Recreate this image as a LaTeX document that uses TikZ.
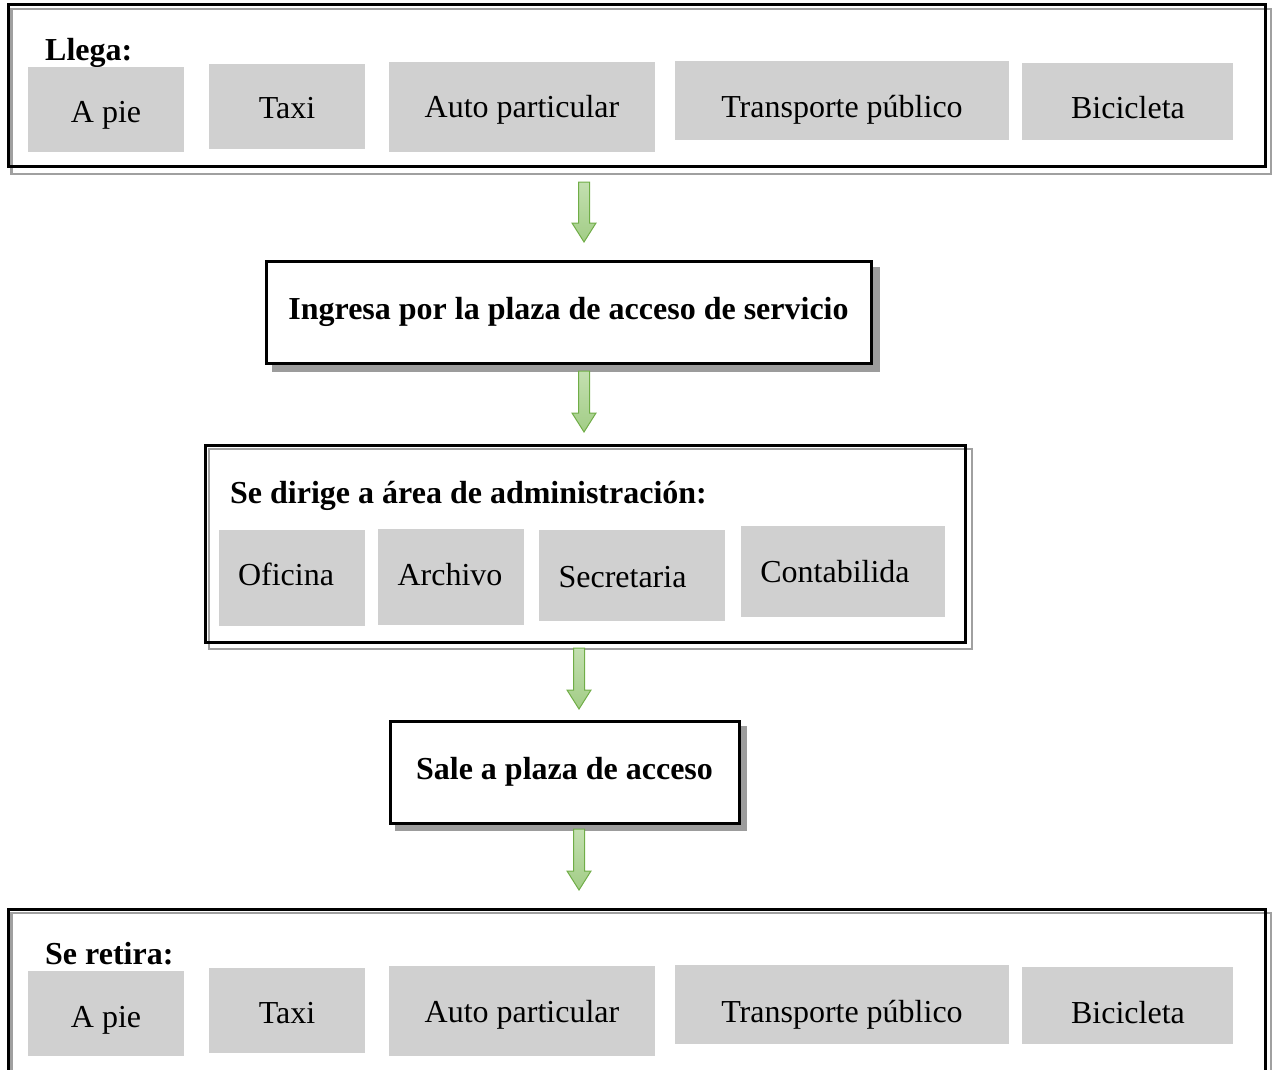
\documentclass[tikz,border=0pt]{standalone}
\usepackage{fontspec}
\setmainfont{Liberation Serif}
\usetikzlibrary{backgrounds}
\definecolor{boxgray}{HTML}{D0D0D0}
\definecolor{framegray}{HTML}{A0A0A0}
\definecolor{shadowgray}{HTML}{9C9C9C}
\definecolor{arrowfill}{HTML}{A2CD86}
\definecolor{arrowlight}{HTML}{C3DFB0}
\definecolor{arrowedge}{HTML}{70AD47}
\tikzset{
  lbl/.style={font=\fontsize{32}{38}\selectfont, inner sep=0pt, anchor=base},
  ttl/.style={font=\fontsize{32}{38}\selectfont\bfseries, inner sep=0pt, anchor=base west},
  optbox/.style={fill=boxgray, draw=none, inner sep=0pt},
  framebox/.style={draw=black, line width=3pt, inner sep=0pt},
  backframe/.style={draw=framegray, line width=2.4pt},
  stepbox/.style={draw=black, line width=3pt, fill=white, inner sep=0pt,
    font=\fontsize{32}{38}\selectfont\bfseries},
  shadowfill/.style={fill=shadowgray},
  garrow/.style={draw=arrowedge, line width=1pt, top color=arrowlight,
    bottom color=arrowfill, line join=miter},
}
% block arrow starting at a named coordinate, pointing down, given length
\newcommand\flowarrow[2]{%
  \draw[garrow] ([xshift=-5.5pt]#1) -- ++(11,0) -- ++(0,#2-19) -- ++(6.5,0)
    -- ++(-12,19) -- ++(-12,-19) -- ++(6.5,0) -- cycle;}
\begin{document}
\begin{tikzpicture}[x=1pt,y=-1pt]
\useasboundingbox (0,0) rectangle (1272,1070);
\clip (0,0) rectangle (1272,1070);

% ---------- top frame: Llega ----------
\node[framebox, minimum width=1257pt, minimum height=162pt] (llega) at (636.5,86) {};
\begin{scope}[on background layer]
  \draw[backframe] ([shift={(5,5.5)}]llega.north west) rectangle ([shift={(5,5.5)}]llega.south east);
\end{scope}
\node[ttl] (llegattl) at (45,61) {Llega:};
\node[optbox, minimum width=156pt, minimum height=85pt] (t1) at (106,109.5) {};
\node[optbox, minimum width=156pt, minimum height=85pt] (t2) at (287,106.5) {};
\node[optbox, minimum width=266pt, minimum height=90pt] (t3) at (522,107) {};
\node[optbox, minimum width=334pt, minimum height=79pt] (t4) at (842,100.5) {};
\node[optbox, minimum width=211pt, minimum height=77pt] (t5) at (1127.5,101.5) {};
\node[lbl] (t1t) at (106,123) {A pie};
\node[lbl] (t2t) at (287,119) {Taxi};
\node[lbl] (t3t) at (522,118) {Auto particular};
\node[lbl] (t4t) at (842,118) {Transporte público};
\node[lbl] (t5t) at (1128,119) {Bicicleta};

% ---------- step: Ingresa ----------
\node[stepbox, minimum width=605pt, minimum height=102pt] (ingresa) at (568.5,312)
  {Ingresa por la plaza de acceso de servicio};
\begin{scope}[on background layer]
  \fill[shadowfill] ([shift={(7,7)}]ingresa.north west) rectangle ([shift={(7,7)}]ingresa.south east);
\end{scope}

% ---------- admin frame ----------
\node[framebox, minimum width=760pt, minimum height=197pt] (admin) at (585,543.5) {};
\begin{scope}[on background layer]
  \draw[backframe] ([shift={(5.5,5.5)}]admin.north west) rectangle ([shift={(5.5,5.5)}]admin.south east);
\end{scope}
\node[ttl] (adminttl) at (230,503) {Se dirige a área de administración:};
\node[optbox, minimum width=146pt, minimum height=96pt] (m1) at (292,578) {};
\node[optbox, minimum width=146pt, minimum height=96pt] (m2) at (451,577) {};
\node[optbox, minimum width=186pt, minimum height=91pt] (m3) at (632,575.5) {};
\node[optbox, minimum width=204pt, minimum height=91pt] (m4) at (843,571.5) {};
\node[lbl] (m1t) at (286,585) {Oficina};
\node[lbl] (m2t) at (450,585) {Archivo};
\node[lbl] (m3t) at (622.5,587) {Secretaria};
\node[lbl] (m4t) at (835,582) {Contabilida};

% ---------- step: Sale ----------
\node[stepbox, minimum width=349pt, minimum height=102pt] (sale) at (564.5,772)
  {Sale a plaza de acceso};
\begin{scope}[on background layer]
  \fill[shadowfill] ([shift={(6,6)}]sale.north west) rectangle ([shift={(6,6)}]sale.south east);
\end{scope}

% ---------- bottom frame: Se retira ----------
\node[framebox, minimum width=1257pt, minimum height=162pt] (retira) at (636.5,990) {};
\begin{scope}[on background layer]
  \draw[backframe] ([shift={(5,5.5)}]retira.north west) rectangle ([shift={(5,5.5)}]retira.south east);
\end{scope}
\node[ttl] (retirattl) at (45,964) {Se retira:};
\node[optbox, minimum width=156pt, minimum height=85pt] (b1) at (106,1013.5) {};
\node[optbox, minimum width=156pt, minimum height=85pt] (b2) at (287,1010.5) {};
\node[optbox, minimum width=266pt, minimum height=90pt] (b3) at (522,1011) {};
\node[optbox, minimum width=334pt, minimum height=79pt] (b4) at (842,1004.5) {};
\node[optbox, minimum width=211pt, minimum height=77pt] (b5) at (1127.5,1005.5) {};
\node[lbl] (b1t) at (106,1027) {A pie};
\node[lbl] (b2t) at (287,1023) {Taxi};
\node[lbl] (b3t) at (522,1022) {Auto particular};
\node[lbl] (b4t) at (842,1022) {Transporte público};
\node[lbl] (b5t) at (1128,1023) {Bicicleta};

% ---------- arrows ----------
\coordinate (arr1) at (584,182);
\coordinate (arr2) at (584,371);
\coordinate (arr3) at (579,648);
\coordinate (arr4) at (579,829);
\flowarrow{arr1}{60}
\flowarrow{arr2}{61}
\flowarrow{arr3}{61}
\flowarrow{arr4}{61}
\end{tikzpicture}
\end{document}
